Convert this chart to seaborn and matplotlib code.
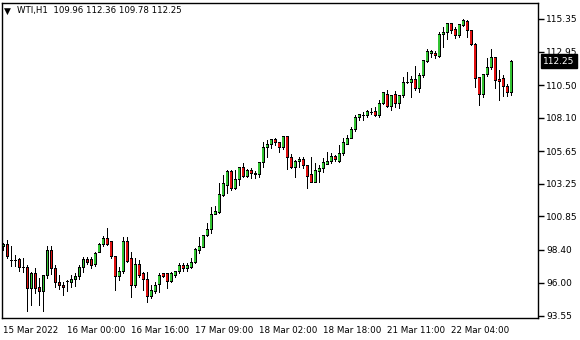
import matplotlib
matplotlib.use("Agg")
import matplotlib.pyplot as plt
import numpy as np
import pandas as pd
import seaborn as sns
from matplotlib.transforms import blended_transform_factory

# ---- data (WTI, H1) ----
opens = [98.68, 98.83, 97.65, 97.62, 97.66, 97.07, 97.14, 95.53, 96.70, 95.67,
         95.31, 96.55, 98.32, 97.00, 96.04, 95.82, 96.11, 96.04, 96.26, 96.41,
         97.14, 97.73, 97.66, 97.36, 98.24, 98.83, 99.20, 98.98, 97.88, 96.41,
         96.78, 98.98, 97.80, 95.75, 97.36, 96.63, 96.26, 95.01, 95.31, 95.89,
         96.63, 96.63, 96.11, 96.55, 96.78, 97.29, 97.00, 97.14, 97.44, 98.39,
         98.61, 99.42, 99.93, 101.03, 101.18, 102.36, 103.16, 104.12, 102.87, 103.60,
         104.41, 103.82, 104.26, 104.04, 103.90, 104.78, 105.95, 106.17, 106.47, 106.25,
         105.88, 106.69, 105.15, 104.41, 104.85, 105.00, 104.56, 103.90, 103.38, 104.12,
         104.34, 104.70, 104.92, 105.29, 104.92, 105.44, 106.17, 106.61, 107.20, 108.08,
         108.23, 108.23, 108.45, 108.52, 108.23, 109.11, 109.84, 108.89, 109.77, 109.18,
         109.70, 110.65, 110.65, 110.87, 110.21, 111.17, 112.19, 112.85, 112.85, 112.56,
         114.18, 114.32, 114.98, 114.54, 114.10, 114.84, 115.13, 114.47, 113.51, 111.02,
         109.77, 111.24, 111.75, 112.49, 110.87, 110.95, 110.36, 109.96]
highs = [98.90, 99.12, 98.68, 98.02, 97.80, 97.80, 97.29, 96.78, 97.07, 96.33,
         96.55, 98.68, 98.68, 97.29, 96.55, 96.04, 96.19, 96.55, 96.70, 97.29,
         97.88, 97.88, 97.88, 98.24, 98.90, 99.42, 100.00, 98.98, 97.88, 97.14,
         99.34, 99.34, 98.24, 97.80, 97.66, 96.78, 96.78, 95.82, 96.04, 96.70,
         96.70, 96.70, 96.78, 96.85, 97.44, 97.44, 97.44, 97.80, 98.54, 99.34,
         99.49, 100.37, 101.55, 101.62, 103.31, 103.90, 104.26, 104.26, 104.26, 104.48,
         104.78, 104.34, 104.41, 104.19, 104.85, 106.32, 106.47, 106.54, 106.61, 106.25,
         106.69, 106.69, 105.44, 105.00, 105.22, 105.22, 104.56, 105.22, 104.78, 104.63,
         105.15, 105.59, 105.51, 105.37, 106.10, 106.61, 106.83, 107.42, 108.30, 108.38,
         108.52, 108.67, 108.82, 108.89, 109.40, 109.92, 110.14, 109.77, 110.06, 109.77,
         111.09, 111.46, 111.17, 111.90, 111.39, 112.34, 113.15, 113.07, 113.00, 114.40,
         114.76, 114.98, 114.98, 114.76, 114.98, 115.35, 115.28, 114.47, 113.59, 111.02,
         111.24, 112.49, 113.15, 112.56, 111.61, 111.24, 110.58, 112.36]
lows = [98.39, 97.80, 97.22, 97.22, 96.85, 96.78, 93.91, 94.35, 95.23, 94.35,
        93.91, 96.33, 96.63, 95.67, 95.53, 95.09, 95.38, 95.67, 95.75, 96.26,
        96.78, 97.36, 97.07, 97.22, 98.24, 98.68, 98.76, 97.80, 95.45, 96.19,
        96.70, 97.51, 94.94, 95.67, 96.41, 95.45, 94.57, 94.87, 95.23, 95.31,
        96.41, 95.60, 96.04, 96.41, 96.70, 96.85, 96.85, 97.07, 97.44, 98.17,
        98.61, 99.42, 99.64, 101.03, 101.11, 102.36, 102.58, 102.80, 102.87, 103.16,
        103.75, 103.75, 103.68, 103.68, 103.75, 104.48, 105.22, 105.88, 106.10, 105.59,
        105.81, 104.34, 104.41, 103.75, 104.48, 104.41, 102.94, 103.38, 103.38, 103.38,
        104.12, 104.70, 104.78, 104.92, 104.85, 105.37, 106.17, 106.61, 107.13, 107.94,
        107.94, 108.16, 108.38, 108.23, 108.16, 109.11, 108.89, 108.67, 108.89, 108.82,
        109.62, 110.65, 109.62, 110.14, 109.99, 111.09, 112.19, 112.56, 112.49, 112.56,
        113.29, 113.88, 114.32, 113.95, 114.03, 114.84, 114.03, 113.44, 110.36, 109.04,
        109.62, 111.17, 111.68, 110.28, 109.40, 109.70, 109.70, 109.78]
closes = [98.83, 97.95, 97.62, 97.60, 97.07, 97.10, 95.53, 96.70, 95.60, 95.38,
          96.55, 98.32, 97.00, 96.04, 95.82, 95.67, 96.11, 96.26, 96.41, 97.07,
          97.73, 97.51, 97.29, 98.17, 98.76, 99.20, 98.83, 97.88, 96.41, 96.78,
          98.98, 97.58, 95.75, 97.36, 96.55, 96.26, 95.01, 95.45, 95.82, 96.55,
          96.48, 96.11, 96.63, 96.78, 97.29, 97.00, 97.22, 97.51, 98.46, 98.68,
          99.49, 99.93, 101.03, 101.25, 102.43, 103.24, 104.12, 102.87, 103.60, 104.41,
          103.82, 104.19, 104.04, 103.90, 104.78, 105.95, 106.17, 106.47, 106.25, 105.88,
          106.69, 105.15, 104.41, 104.85, 105.07, 104.56, 103.82, 103.38, 104.19, 104.34,
          104.78, 104.92, 105.29, 105.00, 105.44, 106.25, 106.61, 107.20, 108.08, 108.30,
          108.26, 108.52, 108.47, 108.23, 109.18, 109.92, 108.89, 109.70, 109.18, 109.70,
          110.72, 110.68, 110.87, 110.21, 111.17, 112.27, 112.93, 112.93, 112.63, 114.18,
          114.32, 114.98, 114.47, 114.10, 114.91, 115.20, 114.47, 113.51, 110.95, 109.77,
          111.24, 111.75, 112.49, 110.80, 110.73, 110.36, 109.92, 112.25]

x_tick_labels = ["15 Mar 2022", "16 Mar 00:00", "16 Mar 16:00", "17 Mar 09:00",
                 "18 Mar 02:00", "18 Mar 18:00", "21 Mar 11:00", "22 Mar 04:00"]
x_tick_bars = [0, 16, 32, 48, 64, 80, 96, 112]
y_ticks = [93.55, 96.00, 98.40, 100.85, 103.25, 105.65, 108.10, 110.50, 112.95, 115.35]
symbol = "WTI,H1"
last_price = 112.25

df = pd.DataFrame({"open": opens, "high": highs, "low": lows, "close": closes})
df["bar"] = np.arange(len(df))
df["up"] = df["close"] >= df["open"]

# ---- style ----
sns.set_theme(style="white")
plt.rcParams["font.family"] = ["DejaVu Sans"]

W, H = 580, 340
fig = plt.figure(figsize=(W / 100, H / 100), dpi=100)
fig.patch.set_facecolor("white")
ax = fig.add_axes([2 / W, 1 - 318 / H, 536 / W, 315 / H])
ax.set_facecolor("white")

YLIM = (93.40, 116.52)
XLIM = (-0.33, 133.7)
ax.set_xlim(*XLIM)
ax.set_ylim(*YLIM)
px_y = (YLIM[1] - YLIM[0]) / 315.0      # one pixel in price units

GREEN = "#33c433"
RED = "#e01010"

# wicks
ax.vlines(df["bar"], df["low"], df["high"], color="black", linewidth=0.72,
          antialiased=False, zorder=2)
# bodies: black outline block, coloured core
lo = np.minimum(df["open"], df["close"])
hgt = (df["open"] - df["close"]).abs()
ax.bar(df["bar"], hgt + px_y, bottom=lo - px_y / 2, width=0.8, color="black",
       linewidth=0, antialiased=False, zorder=3)
core_h = np.clip(hgt - px_y, 0, None)
colors = [GREEN if u else RED for u in df["up"]]
ax.bar(df["bar"], core_h, bottom=lo + px_y / 2, width=0.4, color=colors,
       linewidth=0, antialiased=False, zorder=4)

for s in ax.spines.values():
    s.set_color("black")
    s.set_linewidth(1.0)

ax.yaxis.tick_right()
ax.set_yticks(y_ticks)
ax.set_yticklabels([f"{v:.2f}" for v in y_ticks])
ax.tick_params(axis="y", direction="out", length=4, width=1, color="black",
               pad=2, labelsize=6.5, labelcolor="black")

ax.set_xticks(x_tick_bars)
ax.set_xticklabels(x_tick_labels)
ax.tick_params(axis="x", direction="out", length=4, width=1, color="black",
               pad=1.5, labelsize=6.3, labelcolor="black")
for lbl in ax.get_xticklabels():
    lbl.set_ha("left")

ax.grid(False)

# current price tag
tr = blended_transform_factory(ax.transAxes, ax.transData)
ax.text(1.0 + 5 / 536, last_price, f"{last_price:.2f}", transform=tr,
        ha="left", va="center", color="white", fontsize=6.5, clip_on=False,
        zorder=10,
        bbox=dict(boxstyle="square,pad=0.25", facecolor="black", edgecolor="black"))

# header
fig.text(4 / W, 1 - 11 / H, "\u25BC", fontsize=6.5, color="black", va="center", ha="left")
fig.text(17 / W, 1 - 11 / H,
         f"{symbol}  {opens[-1]:.2f} {highs[-1]:.2f} {lows[-1]:.2f} {closes[-1]:.2f}",
         fontsize=6.2, color="black", va="center", ha="left")

fig.savefig("out.png", dpi=100, facecolor="white")
